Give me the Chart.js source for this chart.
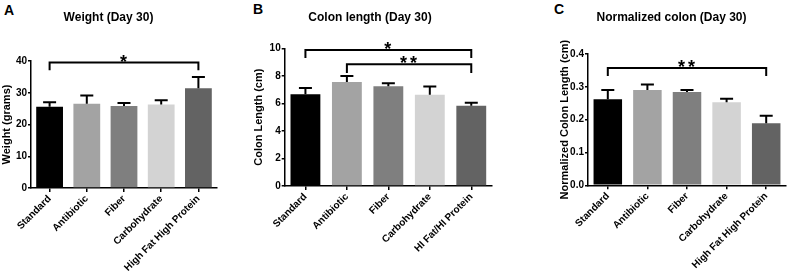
<!DOCTYPE html>
<html>
<head>
<meta charset="utf-8">
<script src="https://cdn.jsdelivr.net/npm/chart.js@4.4.1/dist/chart.umd.min.js"></script>
<style>
  body { margin: 0; background: #fff; width: 792px; height: 271px; overflow: hidden; position: relative; }
  canvas { position: absolute; top: 0; }
  .letter { position: absolute; font: bold 14px Arial, "Liberation Sans", sans-serif; color: #000; }
</style>
</head>
<body>
<div class="letter" style="left:4px;top:2px">A</div>
<div class="letter" style="left:253px;top:1px">B</div>
<div class="letter" style="left:554px;top:1px">C</div>
<canvas id="chartA" width="244" height="271" style="left:0px"></canvas>
<canvas id="chartB" width="295" height="271" style="left:248px"></canvas>
<canvas id="chartC" width="236" height="271" style="left:557px"></canvas>
<script>
// groups
var groups = ['Standard', 'Antibiotic', 'Fiber', 'Carbohydrate', 'High Fat High Protein'];
var groupsB = ['Standard', 'Antibiotic', 'Fiber', 'Carbohydrate', 'HI Fat/HI Protein'];
var barColors = ['#000000', '#a3a3a3', '#7f7f7f', '#d3d3d3', '#636363'];

// A - weight
var weight = [25.6, 26.5, 25.8, 26.3, 31.4];
var weightErr = [1.4, 2.6, 1.0, 1.3, 3.6];
var weightTicks = [0, 10, 20, 30, 40];

// B - colon length
var colon = [6.66, 7.55, 7.24, 6.63, 5.83];
var colonErr = [0.45, 0.44, 0.22, 0.6, 0.22];
var colonTicks = [0, 2, 4, 6, 8, 10];

// C - normalized colon
var normColon = [0.262, 0.290, 0.284, 0.253, 0.189];
var normColonErr = [0.028, 0.017, 0.006, 0.011, 0.023];
var normColonTicks = [0.0, 0.1, 0.2, 0.3, 0.4];

// significance brackets: from, to, level, tip, label
var sigA = [[0, 4, 39.5, 37.1, '*']];
var sigB = [[0, 4, 9.88, 9.3, '*'], [1, 4, 8.84, 8.2, '**']];
var sigC = [[0, 4, 0.357, 0.333, '**']];

var fontFam = 'Arial, "Liberation Sans", sans-serif';

var extrasPlugin = {
  id: 'extras',
  afterDatasetsDraw: function(chart, args, opts) {
    var ctx = chart.ctx, x = chart.scales.x, y = chart.scales.y;
    var vals = chart.data.datasets[0].data;
    ctx.save();
    ctx.strokeStyle = '#000';
    ctx.lineWidth = 2;
    // error bars (upper only)
    for (var i = 0; i < vals.length; i++) {
      var cx = x.getPixelForValue(i);
      var y0 = y.getPixelForValue(vals[i]);
      var y1 = y.getPixelForValue(vals[i] + opts.err[i]);
      ctx.beginPath();
      ctx.moveTo(cx, y0);
      ctx.lineTo(cx, y1);
      ctx.moveTo(cx - 6.5, y1);
      ctx.lineTo(cx + 6.5, y1);
      ctx.stroke();
    }
    // brackets
    ctx.font = 'bold 18px ' + fontFam;
    ctx.textAlign = 'center';
    ctx.textBaseline = 'alphabetic';
    ctx.fillStyle = '#000';
    ctx.letterSpacing = '3px';
    opts.sig.forEach(function(s) {
      var xa = x.getPixelForValue(s[0]), xb = x.getPixelForValue(s[1]);
      var yl = y.getPixelForValue(s[2]), yt = y.getPixelForValue(s[3]);
      ctx.beginPath();
      ctx.moveTo(xa, yt);
      ctx.lineTo(xa, yl);
      ctx.lineTo(xb, yl);
      ctx.lineTo(xb, yt);
      ctx.stroke();
      ctx.fillText(s[4], (xa + xb) / 2 + 1, yl + 5);
    });
    ctx.restore();
  }
};

function makeChart(id, labels, values, err, sig, ticks, dec, title, yTitle, geo) {
  return new Chart(document.getElementById(id), {
    type: 'bar',
    data: {
      labels: labels,
      datasets: [{
        data: values,
        backgroundColor: barColors,
        borderWidth: 0,
        barPercentage: 0.72,
        categoryPercentage: 1.0
      }]
    },
    options: {
      responsive: false,
      animation: false,
      devicePixelRatio: 1,
      layout: { padding: { left: 0, right: geo.right, top: 0, bottom: 0 } },
      plugins: {
        legend: { display: false },
        tooltip: { enabled: false },
        title: {
          display: true,
          text: title,
          color: '#000',
          font: { family: fontFam, size: 12, weight: 'bold' },
          padding: { top: 10, bottom: geo.top - 24.4 }
        },
        extras: { err: err, sig: sig }
      },
      scales: {
        x: {
          offset: true,
          grid: { display: true, offset: false, drawOnChartArea: false, color: '#000', lineWidth: 1.5, tickLength: 4 },
          border: { display: true, color: '#000', width: 1.5 },
          ticks: {
            color: '#000', minRotation: 45, maxRotation: 45, padding: 1,
            font: { family: fontFam, size: 10, weight: 'bold' }
          },
          afterFit: function(s) { s.height = geo.xh; }
        },
        y: {
          min: ticks[0],
          max: ticks[ticks.length - 1],
          afterBuildTicks: function(s) { s.ticks = ticks.map(function(v) { return { value: v }; }); },
          grid: { display: true, drawOnChartArea: false, color: '#000', lineWidth: 1.5, tickLength: 3 },
          border: { display: true, color: '#000', width: 1.5 },
          ticks: {
            color: '#000', padding: 1,
            font: { family: fontFam, size: 10, weight: 'bold' },
            callback: function(v) { return v.toFixed(dec); }
          },
          title: {
            display: true,
            text: yTitle,
            color: '#000',
            font: { family: fontFam, size: 11, weight: 'bold' },
            padding: { top: geo.tp, bottom: 0 }
          },
          afterFit: function(s) { s.width = geo.yw; }
        }
      }
    },
    plugins: [extrasPlugin]
  });
}

makeChart('chartA', groups, weight, weightErr, sigA, weightTicks, 0,
  'Weight (Day 30)', 'Weight (grams)', { right: 27, top: 61, xh: 83, yw: 31, tp: 0 });
makeChart('chartB', groupsB, colon, colonErr, sigB, colonTicks, 0,
  'Colon length (Day 30)', 'Colon Length (cm)', { right: 51, top: 48.3, xh: 85, yw: 36.7, tp: 4 });
makeChart('chartC', groups, normColon, normColonErr, sigC, normColonTicks, 1,
  'Normalized colon (Day 30)', 'Normalized Colon Length (cm)', { right: 7, top: 54, xh: 85.7, yw: 31, tp: 1 });
</script>
</body>
</html>
